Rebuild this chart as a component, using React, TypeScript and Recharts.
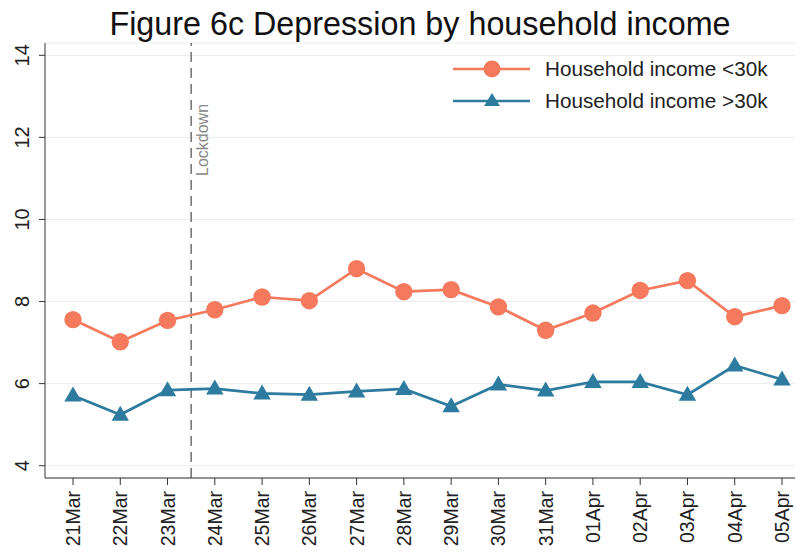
import React from 'react';
import {
  LineChart, Line, XAxis, YAxis, CartesianGrid, ReferenceLine,
} from 'recharts';

// dates on the x axis
const days = [
  '21Mar', '22Mar', '23Mar', '24Mar', '25Mar', '26Mar', '27Mar', '28Mar',
  '29Mar', '30Mar', '31Mar', '01Apr', '02Apr', '03Apr', '04Apr', '05Apr',
];

// mean depression score, household income <30k
const lowIncome = [
  7.56, 7.02, 7.54, 7.80, 8.11, 8.02, 8.80, 8.24,
  8.29, 7.87, 7.30, 7.72, 8.27, 8.51, 7.63, 7.90,
];

// mean depression score, household income >30k
const highIncome = [
  5.71, 5.24, 5.84, 5.88, 5.76, 5.73, 5.81, 5.87,
  5.45, 5.98, 5.83, 6.04, 6.04, 5.73, 6.44, 6.10,
];

const yTicks = [4, 6, 8, 10, 12, 14];
const lockdownAt = 2.5; // between 23Mar and 24Mar

const ORANGE = '#F4795D';
const BLUE = '#2E7BA0';
const FONT = '"Liberation Sans", Arial, sans-serif';

const data = days.map((d, i) => ({
  idx: i,
  day: d,
  low: lowIncome[i],
  high: highIncome[i],
}));

const XTick = ({ x, y, payload }: any) => (
  <text
    x={x}
    y={y + 4}
    transform={`rotate(-90, ${x}, ${y + 4})`}
    textAnchor="end"
    dy="0.36em"
    fontSize={19.5}
    fontFamily={FONT}
    fill="#222"
  >
    {days[payload.value]}
  </text>
);

const YTick = ({ x, y, payload }: any) => (
  <text
    x={x - 8}
    y={y}
    transform={`rotate(-90, ${x - 8}, ${y})`}
    textAnchor="middle"
    fontSize={20}
    fontFamily={FONT}
    fill="#222"
  >
    {payload.value}
  </text>
);

const Circle = ({ cx, cy }: any) => (
  <circle cx={cx} cy={cy} r={8.7} fill={ORANGE} stroke="none" />
);

const Triangle = ({ cx, cy }: any) => (
  <polygon
    points={`${cx},${cy - 9} ${cx - 8.7},${cy + 6} ${cx + 8.7},${cy + 6}`}
    fill={BLUE}
    stroke="none"
  />
);

const lockdownLabel = ({ viewBox }: any) => {
  const lx = viewBox.x + 17;
  const ly = 176;
  return (
    <text
      x={lx}
      y={ly}
      transform={`rotate(-90, ${lx}, ${ly})`}
      textAnchor="start"
      fontSize={16}
      fontFamily={FONT}
      fill="#888"
    >
      Lockdown
    </text>
  );
};

export default function App() {
  return (
    <div style={{ position: 'absolute', left: 0, top: 0, width: 796, height: 553, background: '#fff' }}>
      <LineChart
        width={796}
        height={553}
        data={data}
        margin={{ top: 43, right: 1, bottom: 0, left: 0 }}
      >
        <CartesianGrid horizontal vertical={false} stroke="#ececec" strokeWidth={1} />
        <XAxis
          dataKey="idx"
          type="number"
          domain={[0, 15]}
          ticks={days.map((_, i) => i)}
          interval={0}
          padding={{ left: 28, right: 13 }}
          height={75}
          stroke="#333"
          tickSize={7}
          tick={<XTick />}
        />
        <YAxis
          type="number"
          domain={[3.7, 14.3]}
          ticks={yTicks}
          width={45}
          stroke="#333"
          tickSize={6}
          tick={<YTick />}
          allowDataOverflow
        />
        <ReferenceLine
          x={lockdownAt}
          stroke="#777"
          strokeWidth={1.6}
          strokeDasharray="10 6"
          label={lockdownLabel}
        />
        <Line
          dataKey="low"
          stroke={ORANGE}
          strokeWidth={2.7}
          dot={<Circle />}
          activeDot={false}
          isAnimationActive={false}
        />
        <Line
          dataKey="high"
          stroke={BLUE}
          strokeWidth={2.7}
          dot={<Triangle />}
          activeDot={false}
          isAnimationActive={false}
        />
      </LineChart>
      <svg
        width={796}
        height={553}
        style={{ position: 'absolute', left: 0, top: 0, pointerEvents: 'none' }}
      >
        <text x={420} y={35} textAnchor="middle" fontSize={32.3} fontFamily={FONT} fill="#111">
          Figure 6c Depression by household income
        </text>
        <g fontFamily={FONT} fontSize={20.7} fill="#222">
          <line x1={453} x2={530} y1={69} y2={69} stroke={ORANGE} strokeWidth={2.7} />
          <circle cx={492} cy={69} r={8.5} fill={ORANGE} />
          <text x={545} y={76}>Household income &lt;30k</text>
          <line x1={453} x2={530} y1={101} y2={101} stroke={BLUE} strokeWidth={2.7} />
          <polygon points="492,93 484,106 500,106" fill={BLUE} />
          <text x={545} y={108}>Household income &gt;30k</text>
        </g>
      </svg>
    </div>
  );
}
